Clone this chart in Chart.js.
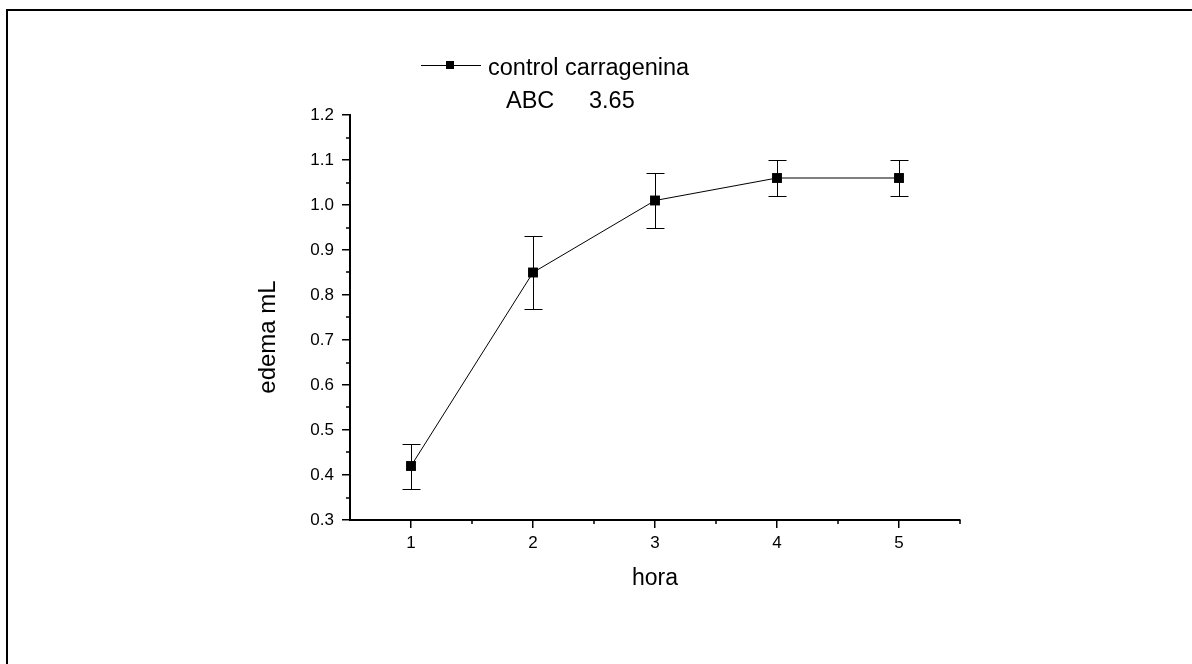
<!DOCTYPE html>
<html>
<head>
<meta charset="utf-8">
<script src="https://cdn.jsdelivr.net/npm/chart.js@4.4.1/dist/chart.umd.min.js"></script>
<style>
  html, body { margin: 0; padding: 0; background: #fff; overflow: hidden; }
  #wrap { position: relative; width: 1192px; height: 664px; }
  canvas { display: block; width: 1192px; height: 664px; }
</style>
</head>
<body>
<div id="wrap"><canvas id="c" width="1192" height="664"></canvas></div>
<script>
// ---- data ----
const hours = [1, 2, 3, 4, 5];
const edema = [0.42, 0.85, 1.01, 1.06, 1.06];
const errLow = [0.37, 0.77, 0.95, 1.02, 1.02];
const errHigh = [0.47, 0.93, 1.07, 1.10, 1.10];
const xTicks = [1, 2, 3, 4, 5];
const xMinorTicks = [1.5, 2.5, 3.5, 4.5, 5.5];
const yTicks = [0.3, 0.4, 0.5, 0.6, 0.7, 0.8, 0.9, 1.0, 1.1, 1.2];
const yMinorTicks = [0.35, 0.45, 0.55, 0.65, 0.75, 0.85, 0.95, 1.05, 1.15];
const seriesName = 'control carragenina';
const abcLabel = 'ABC';
const abcValue = '3.65';
const xTitle = 'hora';
const yTitle = 'edema mL';

const FONT = '"Liberation Sans", Arial, sans-serif';

const extras = {
  id: 'extras',
  afterDraw(chart) {
    const ctx = chart.ctx;
    const xs = chart.scales.x, ys = chart.scales.y;
    ctx.save();
    // frame (left and top edges only)
    ctx.strokeStyle = '#000';
    ctx.lineWidth = 2;
    ctx.beginPath();
    ctx.moveTo(7, 664); ctx.lineTo(7, 10); ctx.lineTo(1192, 10);
    ctx.stroke();

    // minor ticks
    ctx.lineWidth = 1.5;
    ctx.beginPath();
    const ca = chart.chartArea;
    xMinorTicks.forEach(v => {
      const px = Math.round(xs.getPixelForValue(v));
      ctx.moveTo(px, ca.bottom); ctx.lineTo(px, ca.bottom + 4);
    });
    yMinorTicks.forEach(v => {
      const py = Math.round(ys.getPixelForValue(v));
      ctx.moveTo(ca.left, py); ctx.lineTo(ca.left - 4, py);
    });
    ctx.stroke();

    // error bars
    ctx.lineWidth = 1;
    ctx.strokeStyle = '#000';
    ctx.beginPath();
    hours.forEach((h, i) => {
      const px = Math.round(xs.getPixelForValue(h)) + 0.5;
      const pl = Math.round(ys.getPixelForValue(errLow[i])) + 0.5;
      const ph = Math.round(ys.getPixelForValue(errHigh[i])) + 0.5;
      ctx.moveTo(px, pl); ctx.lineTo(px, ph);
      ctx.moveTo(px - 9, pl); ctx.lineTo(px + 9, pl);
      ctx.moveTo(px - 9, ph); ctx.lineTo(px + 9, ph);
    });
    ctx.stroke();

    // y axis title
    ctx.fillStyle = '#000';
    ctx.font = '24px ' + FONT;
    ctx.textAlign = 'center';
    ctx.textBaseline = 'middle';
    ctx.save();
    ctx.translate(268, 337);
    ctx.rotate(-Math.PI / 2);
    ctx.fillText(yTitle, 0, 0);
    ctx.restore();

    // legend
    ctx.beginPath();
    ctx.moveTo(421, 65.5); ctx.lineTo(481, 65.5);
    ctx.stroke();
    ctx.fillRect(446, 61, 8, 8);
    ctx.font = '23.5px ' + FONT;
    ctx.textAlign = 'left';
    ctx.textBaseline = 'alphabetic';
    ctx.fillText(seriesName, 488, 75);
    ctx.fillText(abcLabel, 506, 108);
    ctx.fillText(abcValue, 589, 108);
    ctx.restore();
  }
};

new Chart(document.getElementById('c'), {
  type: 'line',
  data: {
    datasets: [{
      label: seriesName,
      data: hours.map((h, i) => ({ x: h, y: edema[i] })),
      borderColor: '#000',
      borderWidth: 1,
      backgroundColor: '#000',
      pointStyle: 'rect',
      pointRadius: 7,
      pointHoverRadius: 7,
      pointBorderWidth: 0,
      pointBackgroundColor: '#000',
      tension: 0
    }]
  },
  options: {
    responsive: false,
    animation: false,
    events: [],
    layout: { padding: { left: 0, top: 115, right: 232, bottom: 0 } },
    plugins: { legend: { display: false }, tooltip: { enabled: false } },
    scales: {
      x: {
        type: 'linear',
        min: 0.5, max: 5.5,
        afterBuildTicks: s => { s.ticks = xTicks.map(v => ({ value: v })); },
        afterFit: s => { s.height = 664 - 520; },
        grid: { display: true, drawOnChartArea: false, drawTicks: true, tickLength: 8, color: '#000', lineWidth: 1.5 },
        border: { display: true, color: '#000', width: 2 },
        ticks: { color: '#000', font: { family: FONT, size: 17 }, padding: 5, callback: v => String(v) },
        title: { display: true, text: xTitle, color: '#000', font: { family: FONT, size: 23 }, padding: { top: 0, bottom: 72 } }
      },
      y: {
        type: 'linear',
        min: 0.3, max: 1.2,
        afterBuildTicks: s => { s.ticks = yTicks.map(v => ({ value: v })); },
        afterFit: s => { s.width = 350; },
        grid: { display: true, drawOnChartArea: false, drawTicks: true, tickLength: 8, color: '#000', lineWidth: 1.5 },
        border: { display: true, color: '#000', width: 2 },
        ticks: { color: '#000', font: { family: FONT, size: 17 }, padding: 8, callback: v => Number(v).toFixed(1) }
      }
    }
  },
  plugins: [extras]
});
</script>
</body>
</html>
